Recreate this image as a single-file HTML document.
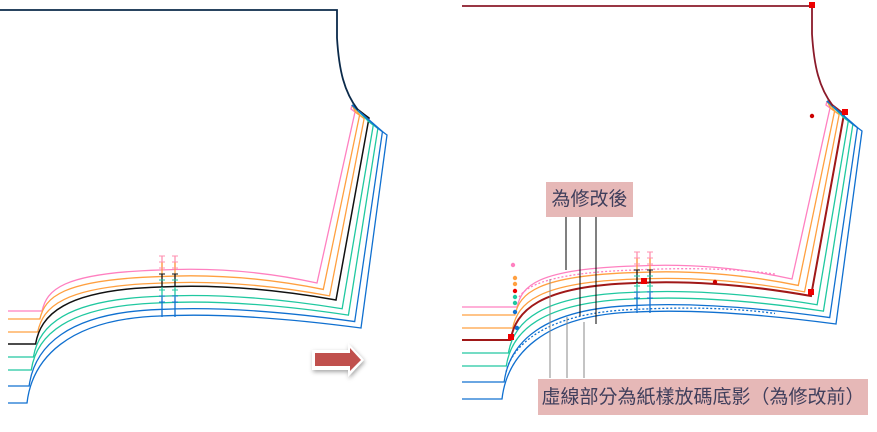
<!DOCTYPE html>
<html><head><meta charset="utf-8"><style>
html,body{margin:0;padding:0;background:#fff;width:877px;height:432px;overflow:hidden}
.lbl{position:absolute;background:#e6b8b7;color:#403f5c;font-family:"Liberation Sans","Noto Sans CJK TC",sans-serif;font-size:19px;line-height:1;display:flex;align-items:center;justify-content:center;white-space:nowrap}
</style></head><body>
<svg id="s" width="877" height="432" style="position:absolute;left:0;top:0">
<defs><filter id="sh" x="-30%" y="-30%" width="160%" height="160%"><feDropShadow dx="1" dy="2" stdDeviation="2" flood-color="#000" flood-opacity="0.35"/></filter></defs>
<g id="L"></g>
<g id="R" transform="translate(475,-4)"></g>
<g stroke="#000" stroke-width="1">
<line x1="566" y1="217" x2="566" y2="270"/><line x1="580" y1="217" x2="580" y2="316"/><line x1="596" y1="217" x2="596" y2="324"/>
</g>
<g stroke="#888" stroke-width="1">
<line x1="550" y1="279" x2="550" y2="378"/><line x1="567" y1="317" x2="567" y2="378"/><line x1="584" y1="322" x2="584" y2="378"/>
</g>
<path d="M312 350 H348 V343 L364 360 L348 377 V370 H312 Z" fill="#fff" filter="url(#sh)"/>
<path d="M315 353 H350 V348 L361 360 L350 371 V366 H315 Z" fill="#c0504d"/>
</svg>
<div class="lbl" style="left:546px;top:182px;width:87px;height:35px">為修改後</div>
<div class="lbl" style="left:538px;top:379px;width:330px;height:36px">虛線部分為紙樣放碼底影（為修改前）</div>
<script>
var cols=["#ff80c0","#ffa040","#ffa040","#111","#20c8a0","#20c8a0","#1070d0","#1070d0"];
var leftY=[311,319,332,344,357,370,386,403];
function lerp(a,b,t){return a+(b-a)*t}
function build(g,isR){
 var h="";
 for(var i=0;i<8;i++){
  var t=i/7, ly=leftY[i], lx=lerp(42,27,t), my=lerp(270,316,t), rx=lerp(317,361,t), ry=lerp(283,328,t), tx=lerp(355,387,t), ty=lerp(112,135,t);
  if(i==3){my=287;rx=336;ry=300;tx=369;ty=118}
  var sx=isR?-13:8;
  var c1y=ly-(ly-my)*0.5, c2x=lx+lerp(18,40,t);
  var d="M"+sx+" "+ly+" L"+lx+" "+ly+" C"+(lx+5)+" "+c1y+" "+c2x+" "+(my+3)+" 160 "+my+" Q240 "+(my-4)+" "+rx+" "+ry+" L"+tx+" "+ty+" L"+(tx-4)+" "+(ty-3)+" L352 105";
  var c=cols[i]; if(isR&&i==3)c="#a01818";
  h+='<path d="'+d+'" fill="none" stroke="'+c+'" stroke-width="'+(i==3?(isR?2:1.5):1.3)+'"/>';
  if(isR&&(i==0||i==6)){
   var d2="M"+(lx+2)+" "+(ly-10)+" C"+(lx+7)+" "+(c1y+4)+" "+(c2x+2)+" "+(my+7)+" 160 "+(my+4)+" Q240 "+my+" 300 "+(my+8);
   h+='<path d="'+d2+'" fill="none" stroke="'+c+'" stroke-width="1.3" stroke-dasharray="2,2"/>';
  }
 }
 h+='<path d="M'+(isR?-13:0)+' 10 H337 V38 C339 70 344 92 358 110" fill="none" stroke="'+(isR?"#8b1a2a":"#0b2a4a")+'" stroke-width="1.8"/>';
 [162,175].forEach(function(x){
  h+='<line x1="'+x+'" y1="256" x2="'+x+'" y2="270" stroke="#ff90b0" stroke-width="1.3"/>';
  h+='<line x1="'+x+'" y1="262" x2="'+x+'" y2="274" stroke="#ffa040" stroke-width="1.3"/>';
  h+='<line x1="'+x+'" y1="274" x2="'+x+'" y2="287" stroke="#111" stroke-width="1.3"/>';
  h+='<line x1="'+x+'" y1="287" x2="'+x+'" y2="297" stroke="#20c8a0" stroke-width="1.3"/>';
  h+='<line x1="'+x+'" y1="297" x2="'+x+'" y2="317" stroke="#1070d0" stroke-width="1.3"/>';
  [256,262,268,274,280,290,296,302].forEach(function(y,k){
   var cc=k<3?"#ff90b0":k<4?"#111":k<6?"#20c8a0":"#1070d0";
   h+='<line x1="'+(x-3)+'" y1="'+y+'" x2="'+(x+3)+'" y2="'+y+'" stroke="'+cc+'" stroke-width="1"/>';
  });
 });
 if(isR){
  h+='<rect x="33" y="338" width="6" height="6" fill="#e00"/><rect x="166" y="282" width="6" height="6" fill="#e00"/><rect x="333" y="293" width="6" height="6" fill="#e00"/>';
  h+='<rect x="334" y="6" width="6" height="6" fill="#e00"/><rect x="367" y="113" width="6" height="6" fill="#e00"/>';
  var dots=[[38,269,"#ff80c0"],[40,282,"#ffa040"],[40,288,"#ffa040"],[40,295,"#e00"],[40,301,"#20c8a0"],[40,307,"#20c8a0"],[40,316,"#1070d0"],[42,332,"#1070d0"]];
  dots.forEach(function(p){h+='<circle cx="'+p[0]+'" cy="'+p[1]+'" r="2.2" fill="'+p[2]+'"/>'});
  h+='<circle cx="240" cy="286" r="2.2" fill="#c00"/><circle cx="337" cy="120" r="2.2" fill="#c00"/>';
 }
 g.innerHTML=h;
}
build(document.getElementById("L"),false);
build(document.getElementById("R"),true);
</script>
</body></html>
